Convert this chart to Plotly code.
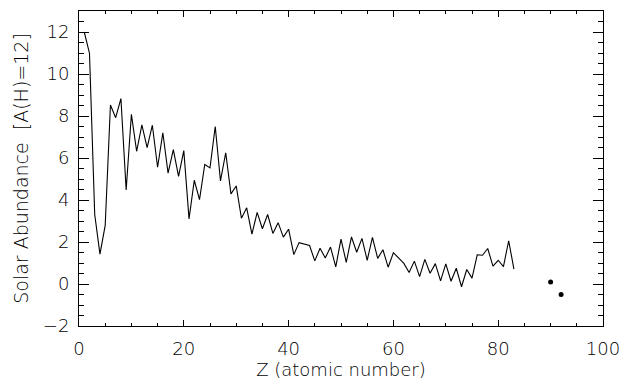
import plotly.graph_objects as go

# Atomic numbers with a measured abundance (Tc=43 and Pm=61 absent)
z_line = [1, 2, 3, 4, 5, 6, 7, 8, 9, 10, 11, 12, 13, 14, 15, 16, 17, 18, 19, 20,
          21, 22, 23, 24, 25, 26, 27, 28, 29, 30, 31, 32, 33, 34, 35, 36, 37, 38, 39, 40,
          41, 42, 44, 45, 46, 47, 48, 49, 50, 51, 52, 53, 54, 55, 56, 57, 58, 59, 60,
          62, 63, 64, 65, 66, 67, 68, 69, 70, 71, 72, 73, 74, 75, 76, 77, 78, 79, 80,
          81, 82, 83]
abund_line = [12.00, 10.99, 3.31, 1.42, 2.79, 8.52, 7.92, 8.83, 4.48, 8.08,
              6.32, 7.58, 6.49, 7.56, 5.56, 7.20, 5.28, 6.40, 5.13, 6.35,
              3.10, 4.94, 4.02, 5.69, 5.53, 7.50, 4.91, 6.25, 4.29, 4.67,
              3.13, 3.63, 2.37, 3.41, 2.63, 3.31, 2.41, 2.92, 2.23, 2.61,
              1.40, 1.97, 1.83, 1.10, 1.70, 1.24, 1.76, 0.82, 2.14, 1.03,
              2.24, 1.51, 2.17, 1.13, 2.22, 1.22, 1.63, 0.80, 1.49,
              0.98, 0.55, 1.09, 0.35, 1.17, 0.51, 0.97, 0.15, 0.96, 0.13, 0.75,
              -0.13, 0.69, 0.28, 1.39, 1.37, 1.69, 0.85, 1.13, 0.83, 2.06, 0.71]

# Th and U plotted as separate points
z_points = [90, 92]
abund_points = [0.09, -0.50]

x_ticks = [0, 20, 40, 60, 80, 100]
y_ticks = [-2, 0, 2, 4, 6, 8, 10, 12]

FONT = "DejaVu Sans"

fig = go.Figure()
fig.add_trace(go.Scatter(x=z_line, y=abund_line, mode="lines",
                         line=dict(color="black", width=1.1),
                         showlegend=False, hoverinfo="skip"))
fig.add_trace(go.Scatter(x=z_points, y=abund_points, mode="markers",
                         marker=dict(color="black", size=5),
                         showlegend=False, hoverinfo="skip"))

fig.update_layout(
    width=628, height=382,
    margin=dict(l=79, r=25, t=11, b=56, autoexpand=False),
    paper_bgcolor="white", plot_bgcolor="white",
    font=dict(family=FONT, size=18, color="black", weight=300),
    xaxis=dict(
        range=[0, 100], tickvals=x_ticks, showgrid=False, zeroline=False,
        automargin=False,
        showline=True, linecolor="black", linewidth=1, mirror="allticks",
        ticks="inside", ticklen=6, tickwidth=1, tickcolor="black",
        minor=dict(ticks="inside", ticklen=3, dtick=5, tickcolor="black", showgrid=False),
        ticklabelstandoff=6,
        title=dict(text="Z (atomic number)", font=dict(size=18), standoff=2),
        tickfont=dict(size=18),
    ),
    yaxis=dict(
        range=[-2, 13], tickvals=y_ticks, showgrid=False, zeroline=False,
        automargin=False,
        showline=True, linecolor="black", linewidth=1, mirror="allticks",
        ticks="inside", ticklen=10, tickwidth=1, tickcolor="black",
        minor=dict(ticks="inside", ticklen=5, dtick=0.5, tickcolor="black", showgrid=False),
        ticklabelstandoff=5,
        title=dict(text="Solar Abundance\u00a0 [A(H)=12]", font=dict(size=19), standoff=9),
        tickfont=dict(size=18),
    ),
)

fig.write_html(
    "out.html",
    config={"displayModeBar": False},
    post_script="document.body.style.margin='0';document.body.style.overflow='hidden';",
)
